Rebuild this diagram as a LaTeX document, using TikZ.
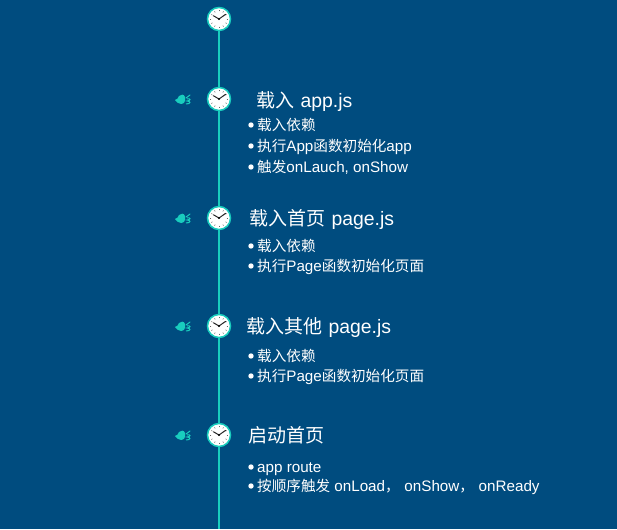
\documentclass[tikz,border=0pt]{standalone}
\usepackage{fontspec}
\setmainfont{Liberation Sans}
\newfontfamily\cjkf{Noto Sans CJK SC}
\newcommand{\zh}[1]{{\cjkf\fontsize{19}{19}\selectfont #1}}
\newcommand{\zi}[1]{{\cjkf\fontsize{14.6}{14.6}\selectfont #1}}
\definecolor{bgblue}{HTML}{004C7F}
\definecolor{teal1}{HTML}{19CDBE}
\tikzset{
  x=1pt,y=-1pt,
  clockface/.style={circle,draw=teal1,fill=white,line width=1.5pt,minimum size=23pt,inner sep=0pt},
  title/.style={anchor=base west,text=white,font=\fontsize{19.4}{19.4}\selectfont,inner sep=0pt},
  item/.style={anchor=base west,text=white,font=\fontsize{15.2}{15.2}\selectfont,inner sep=0pt},
  dotb/.style={circle,fill=white,minimum size=5.4pt,inner sep=0pt},
  tline/.style={draw=teal1,line width=2.4pt},
  pics/clockhands/.style={code={
    \foreach \a in {0,30,...,330}{\draw[black!60,line width=.5pt] (\a:7.6pt) -- (\a:9pt);}
    \draw[black!85,line width=1pt,line cap=round] (0,0) -- (-5.5pt,3.2pt);
    \draw[black!85,line width=1pt,line cap=round] (0,0) -- (6.5pt,4.6pt);
    \fill[black] (0,0) circle (1.2pt);
  }},
  pics/fishmark/.style={code={
    \fill[teal1] (-8,1) .. controls (-6,1) and (-5,-1) .. (-4,-3) .. controls (-2,-5) and (1,-5) .. (2,-2) .. controls (3,2) and (1,5) .. (-2,5) .. controls (-5,5) and (-6,3) .. (-8,1) -- cycle;
    \draw[teal1,line width=1pt,line cap=round] (3,-1) -- (7,-4);
    \draw[teal1,line width=1pt] (4,0) .. controls (8,-1) and (8,2) .. (4,2) .. controls (8,2) and (8,5) .. (3,5);
  }}
}
\begin{document}
\begin{tikzpicture}
\fill[bgblue] (0,0) rectangle (617,529);
\useasboundingbox (0,0) rectangle (617,529);
% timeline nodes
\node[clockface] (c0) at (219,19) {};
\node[clockface] (c1) at (219,99) {};
\node[clockface] (c2) at (219,218) {};
\node[clockface] (c3) at (219,326) {};
\node[clockface] (c4) at (219,435) {};
\coordinate (end) at (219,529);
\draw[tline] (c0) -- (c1);
\draw[tline] (c1) -- (c2);
\draw[tline] (c2) -- (c3);
\draw[tline] (c3) -- (c4);
\draw[tline] (c4) -- (end);
\foreach \n in {c0,c1,c2,c3,c4}{\pic at (\n) {clockhands};}
\foreach \y in {99,218,326,435}{\pic at (183,\y) {fishmark};}
% block 1
\node[title] (t1) at (256,108) {\zh{载入}\hspace{1pt} app.js};
\node[dotb] (d11) at (251,125) {};
\node[item] (i11) at (257,131) {\zi{载入依赖}};
\node[dotb] (d12) at (251,146) {};
\node[item] (i12) at (257,152) {\zi{执行}App\zi{函数初始化}app};
\node[dotb] (d13) at (251,167) {};
\node[item] (i13) at (257,173) {\zi{触发}onLauch, onShow};
% block 2
\node[title] (t2) at (249,225) {\zh{载入首页}\hspace{1pt} page.js};
\node[dotb] (d21) at (251,246) {};
\node[item] (i21) at (257,251) {\zi{载入依赖}};
\node[dotb] (d22) at (251,266) {};
\node[item] (i22) at (257,271) {\zi{执行}Page\zi{函数初始化页面}};
% block 3
\node[title] (t3) at (246,333) {\zh{载入其他}\hspace{1pt} page.js};
\node[dotb] (d31) at (251,356) {};
\node[item] (i31) at (257,361) {\zi{载入依赖}};
\node[dotb] (d32) at (251,376) {};
\node[item] (i32) at (257,381) {\zi{执行}Page\zi{函数初始化页面}};
% block 4
\node[title] (t4) at (248,442) {\zh{启动首页}};
\node[dotb] (d41) at (251,467) {};
\node[item] (i41) at (257,472) {app route};
\node[dotb] (d42) at (251,486) {};
\node[item] (i42) at (257,491) {\zi{按顺序触发} onLoad\zi{，} \hspace{.5pt}onShow\zi{，} \hspace{.5pt}onReady};
\end{tikzpicture}
\end{document}
